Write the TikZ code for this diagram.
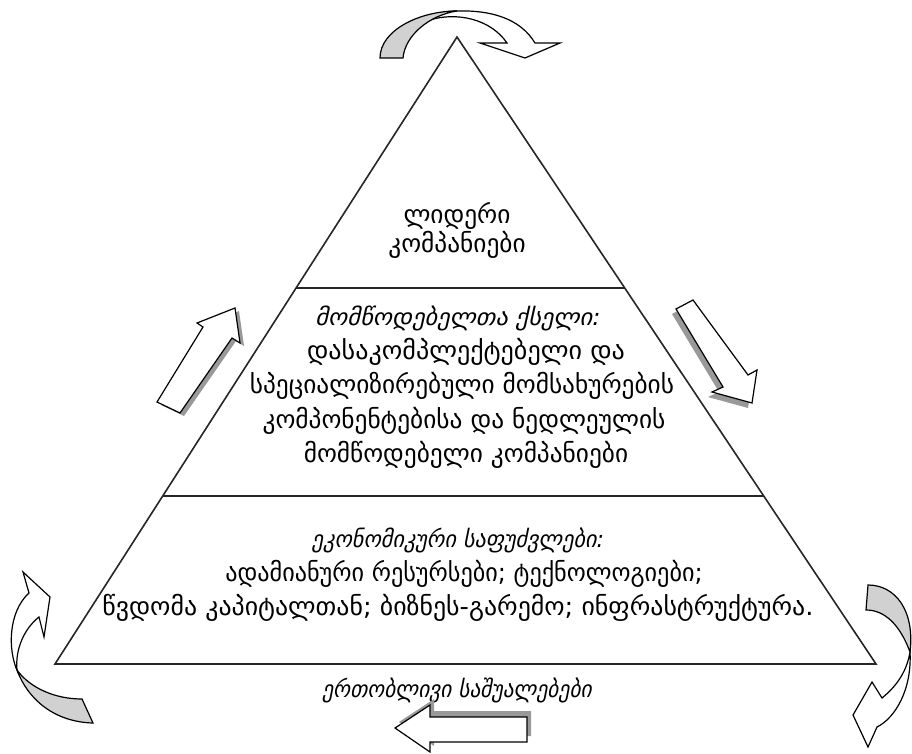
\documentclass[tikz,border=0pt]{standalone}
\usepackage{fontspec}
\setmainfont{DejaVu Sans}
\usetikzlibrary{calc}
\begin{document}
\begin{tikzpicture}[x=0.75pt,y=-0.75pt,
  tri/.style={draw=black!85, line width=1.2pt},
  arrowbody/.style={draw=black, line width=0.9pt, fill=white, line join=miter},
  curlback/.style={draw=black, line width=0.9pt, fill=black!18},
  shadowfill/.style={fill=black!40, draw=none},
  lbl/.style={font=\fontsize{19}{24}\selectfont, inner sep=0pt, anchor=center},
  ttl/.style={font=\fontsize{17.5}{20}\selectfont\itshape, inner sep=0pt, anchor=center}]
\useasboundingbox (0,0) rectangle (912,753);
\fill[white] (0,0) rectangle (912,753);
% pyramid
\coordinate (apex) at (457,37);
\coordinate (bl) at (55,664);
\coordinate (br) at (876,664);
\draw[tri] (apex) -- (bl) -- (br) -- cycle;
\coordinate (d1l) at ($(apex)!0.4003!(bl)$);
\coordinate (d1r) at ($(apex)!0.4003!(br)$);
\coordinate (d2l) at ($(apex)!0.732!(bl)$);
\coordinate (d2r) at ($(apex)!0.732!(br)$);
\draw[tri] (d1l) -- (d1r);
\draw[tri] (d2l) -- (d2r);
% texts
\node[lbl] (t1) at (457,216) {ლიდერი};
\node[lbl] (t2) at (457,245) {კომპანიები};
\node[ttl, xscale=1.05] (m0) at (458,318) {მომწოდებელთა ქსელი:};
\node[lbl, xscale=1.03] (m1) at (466,352) {დასაკომპლექტებელი და};
\node[lbl] (m2) at (462,386) {სპეციალიზირებული მომსახურების};
\node[lbl] (m3) at (464,421) {კომპონენტებისა და ნედლეულის};
\node[lbl] (m4) at (466,455) {მომწოდებელი კომპანიები};
\node[ttl, xscale=0.95] (b0) at (458,540) {ეკონომიკური საფუძვლები:};
\node[lbl, xscale=0.955] (b1) at (464,574) {ადამიანური რესურსები; ტექნოლოგიები;};
\node[lbl, xscale=1.02] (b2) at (458,608) {წვდომა კაპიტალთან; ბიზნეს-გარემო; ინფრასტრუქტურა.};
\node[ttl, xscale=0.92] (f0) at (457,690) {ერთობლივი საშუალებები};
% top curved arrow
\draw[arrowbody] (430,20) .. controls (455,12) and (490,18) .. (507,43) -- (480,43) -- (525,58) -- (560,43) -- (535,43) .. controls (520,18) and (490,10) .. (457,11) .. controls (445,11) and (435,14) .. (430,20) -- cycle;
\draw[curlback] (380,58) .. controls (380,30) and (420,11) .. (457,11) .. controls (430,15) and (405,35) .. (403,58) -- cycle;
% left up straight arrow
\fill[shadowfill, shift={(4,3)}] (157,402) -- (203,327) -- (197,323) -- (235,308) -- (240,343) -- (232,338) -- (180,413) -- cycle;
\draw[arrowbody] (157,402) -- (203,327) -- (197,323) -- (235,308) -- (240,343) -- (232,338) -- (180,413) -- cycle;
% right down straight arrow
\fill[shadowfill, shift={(-4,5)}] (676,309) -- (723,387) -- (712,392) -- (752,403) -- (757,370) -- (748,375) -- (693,300) -- cycle;
\draw[arrowbody] (676,309) -- (723,387) -- (712,392) -- (752,403) -- (757,370) -- (748,375) -- (693,300) -- cycle;
% bottom left-pointing arrow
\fill[shadowfill, shift={(4,-6)}] (395,728) -- (430,705) -- (430,717) -- (527,717) -- (527,742) -- (430,742) -- (430,752) -- cycle;
\draw[arrowbody] (395,728) -- (430,705) -- (430,717) -- (527,717) -- (527,742) -- (430,742) -- (430,752) -- cycle;
% left curved arrow
\draw[arrowbody] (23,572) -- (50,597) -- (44,637) -- (39,617) .. controls (25,628) and (15,648) .. (17,670) .. controls (8,650) and (8,612) .. (29,593) -- cycle;
\draw[curlback] (17,670) .. controls (30,688) and (55,699) .. (82,699) -- (93,723) .. controls (55,722) and (28,700) .. (17,670) -- cycle;
% right curved arrow
\draw[curlback] (910,652) .. controls (915,610) and (895,585) .. (868,585) -- (866,610) .. controls (885,610) and (900,625) .. (910,652) -- cycle;
\draw[arrowbody] (910,652) .. controls (912,690) and (895,718) .. (877,727) -- (868,747) -- (853,715) -- (872,682) -- (882,698) .. controls (898,685) and (907,670) .. (910,652) -- cycle;
\end{tikzpicture}
\end{document}
